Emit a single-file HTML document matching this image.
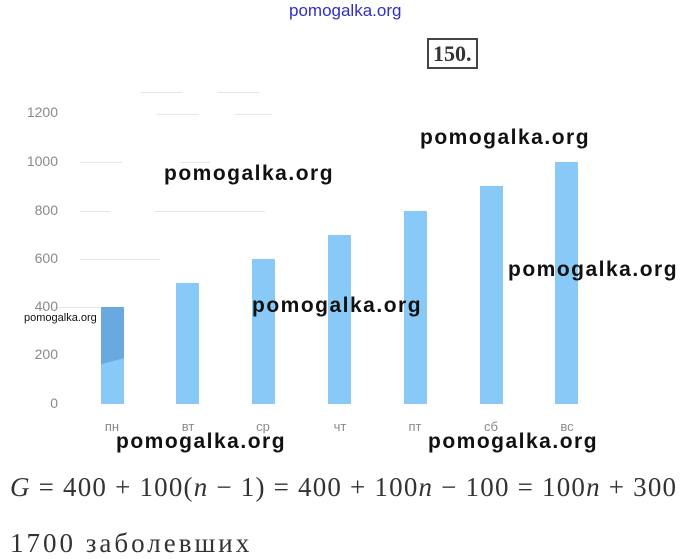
<!DOCTYPE html>
<html><head><meta charset="utf-8"><style>
body{margin:0;width:692px;height:557px;background:#fff;position:relative;overflow:hidden;font-family:"Liberation Sans",sans-serif}
.a{position:absolute;white-space:nowrap}
.yl{position:absolute;right:634px;color:#8a8a8a;font-size:14px}
.xl{position:absolute;top:419px;color:#8a8a8a;font-size:13px;width:40px;text-align:center}
.bar{position:absolute;background:#88c9f7;width:23px;bottom:153px}
.wm{position:absolute;font-size:21px;font-weight:bold;color:#111;white-space:nowrap;letter-spacing:1.5px}
.g{position:absolute;height:1px;background:#e6e6e6}
.m{position:absolute;font-family:"Liberation Serif",serif;color:#333;white-space:nowrap}
</style></head><body>
<div class="a" style="left:289px;top:1px;font-size:17px;color:#3030c0">pomogalka.org</div>
<div class="a" style="left:427px;top:38px;border:2px solid #444;padding:0 4px;font-family:'Liberation Serif',serif;font-weight:bold;font-size:22px;color:#333;line-height:27px">150.</div>
<div class="g" style="left:140px;top:92px;width:42px"></div>
<div class="g" style="left:218px;top:92px;width:42px"></div>
<div class="g" style="left:157px;top:114px;width:42px"></div>
<div class="g" style="left:235px;top:114px;width:37px"></div>
<div class="g" style="left:80px;top:162px;width:42px"></div>
<div class="g" style="left:180px;top:162px;width:30px"></div>
<div class="g" style="left:80px;top:211px;width:30px"></div>
<div class="g" style="left:155px;top:211px;width:110px"></div>
<div class="g" style="left:80px;top:259px;width:80px"></div>
<div class="g" style="left:55px;top:307px;width:65px"></div>
<div class="yl" style="top:104px">1200</div>
<div class="yl" style="top:153px">1000</div>
<div class="yl" style="top:202px">800</div>
<div class="yl" style="top:250px">600</div>
<div class="yl" style="top:298px">400</div>
<div class="yl" style="top:346px">200</div>
<div class="yl" style="top:395px">0</div>
<div class="bar" style="left:101px;height:97px;background:linear-gradient(165deg,#6aa8e0 0%,#6aa8e0 55%,#88c9f7 56%)"></div>
<div class="bar" style="left:176px;height:121px"></div>
<div class="bar" style="left:252px;height:145px"></div>
<div class="bar" style="left:328px;height:169px"></div>
<div class="bar" style="left:404px;height:193px"></div>
<div class="bar" style="left:480px;height:218px"></div>
<div class="bar" style="left:555px;height:242px"></div>
<div class="xl" style="left:92px">пн</div>
<div class="xl" style="left:168px">вт</div>
<div class="xl" style="left:243px">ср</div>
<div class="xl" style="left:320px">чт</div>
<div class="xl" style="left:395px">пт</div>
<div class="xl" style="left:471px">сб</div>
<div class="xl" style="left:547px">вс</div>
<div class="wm" style="left:164px;top:162px">pomogalka.org</div>
<div class="wm" style="left:420px;top:126px">pomogalka.org</div>
<div class="wm" style="left:508px;top:258px">pomogalka.org</div>
<div class="wm" style="left:252px;top:294px">pomogalka.org</div>
<div class="wm" style="left:116px;top:430px">pomogalka.org</div>
<div class="wm" style="left:428px;top:430px">pomogalka.org</div>
<div class="a" style="left:24px;top:312px;font-size:11px;color:#111">pomogalka.org</div>
<div class="m" style="left:10px;top:472px;font-size:27px;letter-spacing:1.2px"><i>G</i> = 400 + 100(<i>n</i> − 1) = 400 + 100<i>n</i> − 100 = 100<i>n</i> + 300</div>
<div class="m" style="left:10px;top:528px;font-size:27px;letter-spacing:3px">1700 заболевших</div>
</body></html>
